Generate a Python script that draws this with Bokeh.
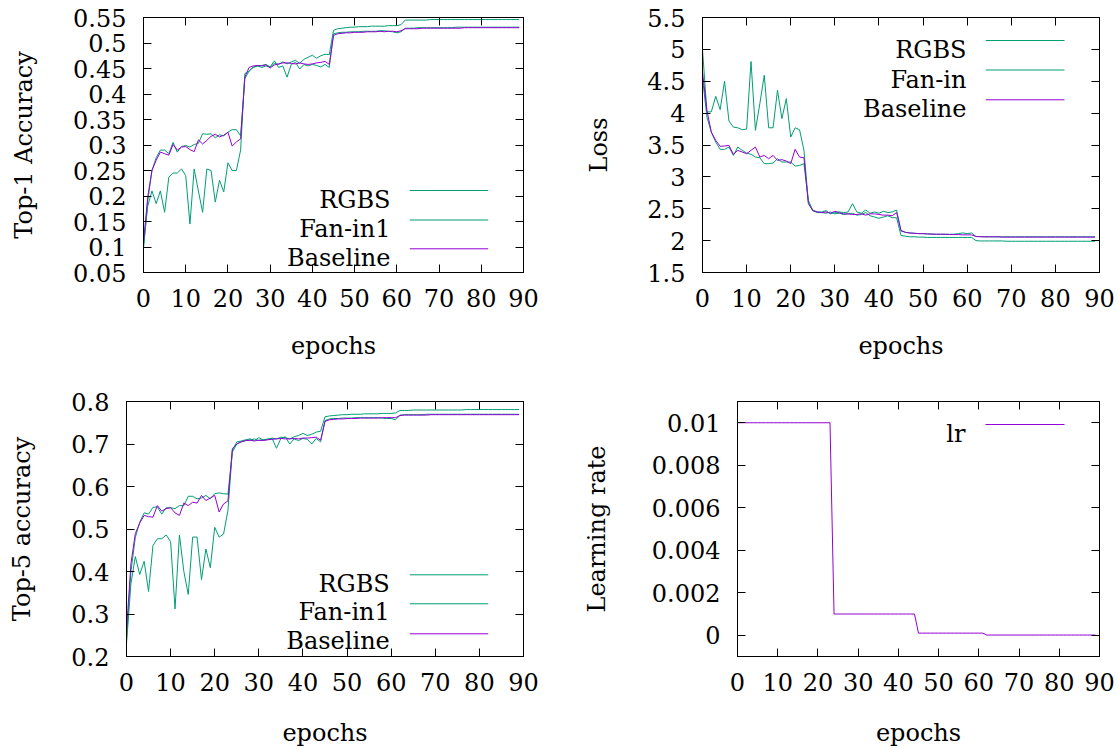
from bokeh.plotting import figure
from bokeh.models import FixedTicker, LinearAxis, Label, CustomJSTickFormatter, Range1d
from bokeh.layouts import column, row
from bokeh.embed import file_html
from bokeh.resources import INLINE

# ---------------- data ----------------
EPOCHS = list(range(90))
X_TICKS = [0, 10, 20, 30, 40, 50, 60, 70, 80, 90]

TOP1_TICKS = [0.05, 0.1, 0.15, 0.2, 0.25, 0.3, 0.35, 0.4, 0.45, 0.5, 0.55]
LOSS_TICKS = [1.5, 2, 2.5, 3, 3.5, 4, 4.5, 5, 5.5]
TOP5_TICKS = [0.2, 0.3, 0.4, 0.5, 0.6, 0.7, 0.8]
LR_TICKS = [0, 0.002, 0.004, 0.006, 0.008, 0.01]

top1_rgbs = [0.10, 0.19, 0.25, 0.275, 0.29, 0.29, 0.283, 0.305, 0.286, 0.297,
             0.299, 0.296, 0.301, 0.303, 0.322, 0.321, 0.322, 0.314, 0.32, 0.318,
             0.325, 0.33, 0.33, 0.318, 0.43, 0.445, 0.452, 0.455, 0.456, 0.458,
             0.453, 0.46, 0.458, 0.463, 0.459, 0.463, 0.466, 0.46, 0.468, 0.472,
             0.476, 0.47, 0.475, 0.478, 0.477, 0.525, 0.528, 0.529, 0.530, 0.531,
             0.531, 0.532, 0.532, 0.532, 0.533, 0.533, 0.533, 0.533, 0.534, 0.534,
             0.534, 0.536, 0.545, 0.545, 0.545, 0.545, 0.545, 0.545, 0.546, 0.546,
             0.546, 0.546, 0.546, 0.546, 0.546, 0.546, 0.546, 0.546, 0.546, 0.546,
             0.546, 0.546, 0.546, 0.546, 0.546, 0.546, 0.546, 0.546, 0.546, 0.546]
top1_fanin = [0.10, 0.18, 0.21, 0.185, 0.21, 0.168, 0.237, 0.245, 0.245, 0.253,
              0.24, 0.145, 0.253, 0.21, 0.168, 0.253, 0.25, 0.188, 0.231, 0.208,
              0.265, 0.25, 0.25, 0.29, 0.44, 0.445, 0.453, 0.455, 0.452, 0.455,
              0.453, 0.465, 0.452, 0.455, 0.433, 0.458, 0.462, 0.449, 0.458, 0.455,
              0.458, 0.456, 0.453, 0.458, 0.452, 0.518, 0.52, 0.521, 0.521, 0.522,
              0.522, 0.522, 0.523, 0.523, 0.523, 0.523, 0.524, 0.524, 0.523, 0.522,
              0.52, 0.522, 0.529, 0.529, 0.529, 0.53, 0.53, 0.53, 0.53, 0.53,
              0.53, 0.53, 0.53, 0.53, 0.531, 0.531, 0.531, 0.531, 0.531, 0.531,
              0.531, 0.531, 0.531, 0.531, 0.531, 0.531, 0.531, 0.531, 0.531, 0.531]
top1_base = [0.11, 0.198, 0.25, 0.27, 0.286, 0.283, 0.28, 0.301, 0.29, 0.296,
             0.297, 0.291, 0.287, 0.31, 0.302, 0.309, 0.317, 0.321, 0.316, 0.319,
             0.325, 0.298, 0.306, 0.312, 0.433, 0.452, 0.455, 0.456, 0.455, 0.457,
             0.451, 0.457, 0.459, 0.461, 0.461, 0.46, 0.459, 0.461, 0.459, 0.458,
             0.459, 0.461, 0.462, 0.464, 0.458, 0.515, 0.518, 0.519, 0.52, 0.52,
             0.521, 0.521, 0.521, 0.522, 0.522, 0.522, 0.523, 0.522, 0.523, 0.523,
             0.522, 0.524, 0.528, 0.528, 0.528, 0.528, 0.529, 0.529, 0.529, 0.529,
             0.529, 0.529, 0.529, 0.529, 0.529, 0.529, 0.53, 0.53, 0.53, 0.53,
             0.53, 0.53, 0.53, 0.53, 0.53, 0.53, 0.53, 0.53, 0.53, 0.53]

loss_rgbs = [4.55, 3.94, 3.70, 3.546, 3.432, 3.432, 3.468, 3.337, 3.468, 3.416,
             3.374, 3.353, 3.311, 3.30, 3.207, 3.207, 3.217, 3.285, 3.233, 3.233,
             3.233, 3.169, 3.18, 3.207, 2.631, 2.47, 2.44, 2.44, 2.43, 2.45,
             2.42, 2.43, 2.41, 2.42, 2.43, 2.40, 2.41, 2.44, 2.39, 2.37,
             2.35, 2.37, 2.39, 2.36, 2.36, 2.08, 2.07, 2.06, 2.06, 2.055,
             2.055, 2.05, 2.05, 2.05, 2.05, 2.05, 2.05, 2.05, 2.05, 2.05,
             2.05, 2.05, 2.0, 1.995, 1.995, 1.995, 1.995, 1.995, 1.995, 1.99,
             1.99, 1.99, 1.99, 1.99, 1.99, 1.99, 1.99, 1.99, 1.99, 1.99,
             1.99, 1.99, 1.99, 1.99, 1.99, 1.99, 1.99, 1.99, 1.99, 1.99]
loss_fanin = [5.0, 4.018, 4.02, 4.264, 4.055, 4.5, 3.876, 3.78, 3.77, 3.74,
              3.75, 4.81, 3.73, 4.15, 4.594, 3.77, 3.77, 4.358, 3.914, 4.228,
              3.625, 3.77, 3.74, 3.416, 2.604, 2.48, 2.45, 2.45, 2.47, 2.42,
              2.44, 2.45, 2.44, 2.45, 2.58, 2.45, 2.43, 2.48, 2.43, 2.45,
              2.43, 2.46, 2.44, 2.45, 2.48, 2.15, 2.13, 2.12, 2.115, 2.11,
              2.11, 2.105, 2.105, 2.10, 2.10, 2.10, 2.10, 2.10, 2.11, 2.12,
              2.11, 2.12, 2.065, 2.065, 2.06, 2.06, 2.06, 2.06, 2.06, 2.06,
              2.06, 2.06, 2.06, 2.06, 2.06, 2.06, 2.06, 2.06, 2.06, 2.06,
              2.06, 2.06, 2.06, 2.06, 2.06, 2.06, 2.06, 2.06, 2.06, 2.06]
loss_base = [4.646, 4.044, 3.703, 3.573, 3.479, 3.484, 3.494, 3.353, 3.416, 3.39,
             3.363, 3.416, 3.468, 3.311, 3.337, 3.285, 3.337, 3.259, 3.27, 3.248,
             3.207, 3.432, 3.311, 3.30, 2.579, 2.47, 2.45, 2.44, 2.45, 2.43,
             2.46, 2.44, 2.42, 2.42, 2.41, 2.41, 2.42, 2.40, 2.42, 2.42,
             2.41, 2.40, 2.40, 2.39, 2.44, 2.16, 2.13, 2.12, 2.115, 2.11,
             2.11, 2.105, 2.10, 2.10, 2.10, 2.10, 2.095, 2.095, 2.095, 2.09,
             2.09, 2.09, 2.065, 2.06, 2.06, 2.06, 2.06, 2.06, 2.055, 2.055,
             2.055, 2.055, 2.055, 2.055, 2.055, 2.055, 2.055, 2.055, 2.055, 2.055,
             2.055, 2.055, 2.055, 2.055, 2.055, 2.055, 2.055, 2.055, 2.055, 2.055]

top5_rgbs = [0.24, 0.40, 0.48, 0.516, 0.538, 0.535, 0.551, 0.552, 0.535, 0.55,
             0.55, 0.548, 0.555, 0.555, 0.577, 0.577, 0.571, 0.573, 0.579, 0.571,
             0.583, 0.585, 0.583, 0.582, 0.681, 0.70, 0.705, 0.708, 0.709, 0.712,
             0.708, 0.711, 0.71, 0.714, 0.712, 0.716, 0.715, 0.712, 0.717, 0.72,
             0.725, 0.72, 0.723, 0.728, 0.73, 0.764, 0.766, 0.767, 0.768, 0.769,
             0.769, 0.77, 0.77, 0.77, 0.771, 0.771, 0.771, 0.771, 0.772, 0.772,
             0.772, 0.773, 0.779, 0.779, 0.779, 0.78, 0.78, 0.78, 0.78, 0.78,
             0.78, 0.78, 0.78, 0.78, 0.78, 0.78, 0.78, 0.781, 0.781, 0.781,
             0.781, 0.781, 0.781, 0.781, 0.781, 0.781, 0.781, 0.781, 0.781, 0.781]
top5_fanin = [0.23, 0.371, 0.435, 0.393, 0.424, 0.353, 0.461, 0.477, 0.477, 0.486,
              0.47, 0.312, 0.486, 0.40, 0.346, 0.481, 0.481, 0.381, 0.453, 0.409,
              0.504, 0.481, 0.488, 0.544, 0.685, 0.705, 0.707, 0.71, 0.712, 0.708,
              0.715, 0.709, 0.712, 0.713, 0.69, 0.713, 0.717, 0.70, 0.712, 0.708,
              0.713, 0.711, 0.70, 0.713, 0.705, 0.755, 0.759, 0.76, 0.76, 0.761,
              0.761, 0.761, 0.762, 0.762, 0.762, 0.762, 0.762, 0.762, 0.761, 0.76,
              0.76, 0.757, 0.768, 0.769, 0.769, 0.769, 0.769, 0.769, 0.77, 0.77,
              0.77, 0.77, 0.77, 0.77, 0.77, 0.77, 0.77, 0.77, 0.77, 0.77,
              0.77, 0.77, 0.77, 0.77, 0.77, 0.77, 0.77, 0.77, 0.77, 0.77]
top5_base = [0.261, 0.418, 0.489, 0.514, 0.532, 0.529, 0.528, 0.555, 0.542, 0.548,
             0.55, 0.538, 0.532, 0.561, 0.555, 0.563, 0.561, 0.579, 0.567, 0.573,
             0.579, 0.54, 0.559, 0.566, 0.689, 0.70, 0.705, 0.708, 0.709, 0.707,
             0.709, 0.708, 0.71, 0.711, 0.712, 0.713, 0.712, 0.712, 0.713, 0.712,
             0.714, 0.714, 0.715, 0.716, 0.709, 0.753, 0.757, 0.758, 0.759, 0.759,
             0.76, 0.76, 0.76, 0.761, 0.761, 0.761, 0.761, 0.761, 0.762, 0.762,
             0.762, 0.762, 0.767, 0.768, 0.768, 0.768, 0.768, 0.768, 0.768, 0.769,
             0.769, 0.769, 0.769, 0.769, 0.769, 0.769, 0.769, 0.769, 0.769, 0.769,
             0.769, 0.769, 0.769, 0.769, 0.769, 0.769, 0.769, 0.769, 0.769, 0.769]

lr = [0.01, 0.01, 0.01, 0.01, 0.01, 0.01, 0.01, 0.01, 0.01, 0.01,
      0.01, 0.01, 0.01, 0.01, 0.01, 0.01, 0.01, 0.01, 0.01, 0.01,
      0.01, 0.01, 0.01, 0.01, 0.001, 0.001, 0.001, 0.001, 0.001, 0.001,
      0.001, 0.001, 0.001, 0.001, 0.001, 0.001, 0.001, 0.001, 0.001, 0.001,
      0.001, 0.001, 0.001, 0.001, 0.001, 0.0001, 0.0001, 0.0001, 0.0001, 0.0001,
      0.0001, 0.0001, 0.0001, 0.0001, 0.0001, 0.0001, 0.0001, 0.0001, 0.0001, 0.0001,
      0.0001, 0.0001, 0.00001, 0.00001, 0.00001, 0.00001, 0.00001, 0.00001, 0.00001, 0.00001,
      0.00001, 0.00001, 0.00001, 0.00001, 0.00001, 0.00001, 0.00001, 0.00001, 0.00001, 0.00001,
      0.00001, 0.00001, 0.00001, 0.00001, 0.00001, 0.00001, 0.00001, 0.00001, 0.00001, 0.00001]

# ---------------- style ----------------
FONT = "DejaVu Serif"
TICK_FS = "24px"
LABEL_FS = "24px"
GREEN = "#009e73"
PURPLE = "#9400d3"
FMT_CODE = "return String(tick);"


def style_axis(ax, ticks, show_labels=True):
    ax.ticker = FixedTicker(ticks=ticks)
    ax.formatter = CustomJSTickFormatter(code=FMT_CODE)
    ax.axis_line_color = "black"
    ax.axis_line_width = 1
    ax.major_tick_line_color = "black"
    ax.major_tick_in = 8
    ax.major_tick_out = 0
    ax.minor_tick_line_color = None
    ax.major_label_text_font = FONT
    if show_labels:
        ax.major_label_text_font_size = TICK_FS
        ax.major_label_text_color = "black"
    else:
        ax.major_label_text_font_size = "1px"
        ax.major_label_text_color = None
        ax.major_label_standoff = 0
        ax.axis_label_standoff = 0


def make_panel(width, height, mb, yr, yticks, ylabel, xlab_so, ylab_so, ytick_so, xtick_so):
    p = figure(width=width, height=height, output_backend="svg", toolbar_location=None,
               x_range=Range1d(0, 90), y_range=Range1d(yr[0], yr[1]),
               min_border_left=mb[0], min_border_right=mb[1],
               min_border_top=mb[2], min_border_bottom=mb[3])
    p.xgrid.visible = False
    p.ygrid.visible = False
    p.outline_line_color = "black"
    p.outline_line_width = 1
    p.background_fill_color = "white"
    p.border_fill_color = "white"

    xa = p.xaxis[0]
    style_axis(xa, X_TICKS)
    xa.axis_label = "epochs"
    xa.axis_label_text_font = FONT
    xa.axis_label_text_font_size = LABEL_FS
    xa.axis_label_text_font_style = "normal"
    xa.axis_label_text_color = "black"
    xa.axis_label_standoff = xlab_so
    xa.major_label_standoff = xtick_so

    ya = p.yaxis[0]
    style_axis(ya, yticks)
    ya.axis_label = ylabel
    ya.axis_label_text_font = FONT
    ya.axis_label_text_font_size = LABEL_FS
    ya.axis_label_text_font_style = "normal"
    ya.axis_label_text_color = "black"
    ya.axis_label_standoff = ylab_so
    ya.major_label_standoff = ytick_so

    top = LinearAxis()
    style_axis(top, X_TICKS, show_labels=False)
    p.add_layout(top, "above")
    right = LinearAxis()
    style_axis(right, yticks, show_labels=False)
    p.add_layout(right, "right")
    return p


def add_legend(p, frame, yr, entries, text_right, sx0, sx1):
    L, T, R, B = frame

    def dx(px):
        return 0 + (px - L) / (R - L) * 90

    def dy(py):
        return yr[1] - (py - T) / (B - T) * (yr[1] - yr[0])

    for text, color, base_py, line_py in entries:
        p.add_layout(Label(x=dx(text_right), y=dy(base_py), text=text, text_align="right",
                           text_baseline="alphabetic", text_font=FONT,
                           text_font_size=LABEL_FS, text_color="black"))
        p.segment(x0=[dx(sx0)], y0=[dy(line_py)], x1=[dx(sx1)], y1=[dy(line_py)],
                  line_color=color, line_width=1)


# ---------------- panels ----------------
# frames in page pixels (left, top, right, bottom)
F1 = (143, 17, 523, 272)
F2 = (702, 17, 1099, 272)
F3 = (126, 401, 523, 656)
F4 = (737, 401, 1099, 656)

R1 = (0.05, 0.55)
R2 = (1.5, 5.5)
R3 = (0.2, 0.8)
R4 = (-0.001, 0.011)

SPLIT = 570
TOTAL_W = 1118
TOP_H = 380
BOT_H = 369

W1 = SPLIT
W2 = TOTAL_W - SPLIT

p1 = make_panel(W1, TOP_H, (F1[0], W1 - F1[2], F1[1], TOP_H - F1[3]), R1, TOP1_TICKS,
                "Top-1 Accuracy", 22, 32, 17, 16)
p1.line(EPOCHS, top1_rgbs, line_color=GREEN, line_width=1)
p1.line(EPOCHS, top1_fanin, line_color=GREEN, line_width=1)
p1.line(EPOCHS, top1_base, line_color=PURPLE, line_width=1)
add_legend(p1, F1, R1, [("RGBS", GREEN, 199, 190), ("Fan-in1", GREEN, 228.3, 219.5),
                        ("Baseline", PURPLE, 257.3, 248.3)], 390, 409.3, 487.7)

p2 = make_panel(W2, TOP_H, (F2[0] - SPLIT, TOTAL_W - F2[2], F2[1], TOP_H - F2[3]), R2, LOSS_TICKS,
                "Loss", 22, 31, 17, 16)
p2.line(EPOCHS, loss_rgbs, line_color=GREEN, line_width=1)
p2.line(EPOCHS, loss_fanin, line_color=GREEN, line_width=1)
p2.line(EPOCHS, loss_base, line_color=PURPLE, line_width=1)
add_legend(p2, F2, R2, [("RGBS", GREEN, 49.3, 40), ("Fan-in", GREEN, 79.3, 69.5),
                        ("Baseline", PURPLE, 108.3, 99.3)], 966, 985.3, 1064)

p3 = make_panel(W1, BOT_H, (F3[0], W1 - F3[2], F3[1] - TOP_H, TOP_H + BOT_H - F3[3]), R3, TOP5_TICKS,
                "Top-5 accuracy", 25, 32, 17, 16)
p3.line(EPOCHS, top5_rgbs, line_color=GREEN, line_width=1)
p3.line(EPOCHS, top5_fanin, line_color=GREEN, line_width=1)
p3.line(EPOCHS, top5_base, line_color=PURPLE, line_width=1)
add_legend(p3, F3, R3, [("RGBS", GREEN, 583.3, 574.3), ("Fan-in1", GREEN, 611.7, 603.3),
                        ("Baseline", PURPLE, 640.7, 633.3)], 389.3, 409.3, 487.7)

p4 = make_panel(W2, BOT_H, (F4[0] - SPLIT, TOTAL_W - F4[2], F4[1] - TOP_H, TOP_H + BOT_H - F4[3]), R4, LR_TICKS,
                "Learning rate", 25, 38, 17, 16)
p4.line(EPOCHS, lr, line_color=PURPLE, line_width=1)
add_legend(p4, F4, R4, [("lr", PURPLE, 433.3, 424)], 965, 985, 1064)

layout = column(row(p1, p2), row(p3, p4))

with open("out.html", "w") as f:
    f.write(file_html(layout, INLINE))
